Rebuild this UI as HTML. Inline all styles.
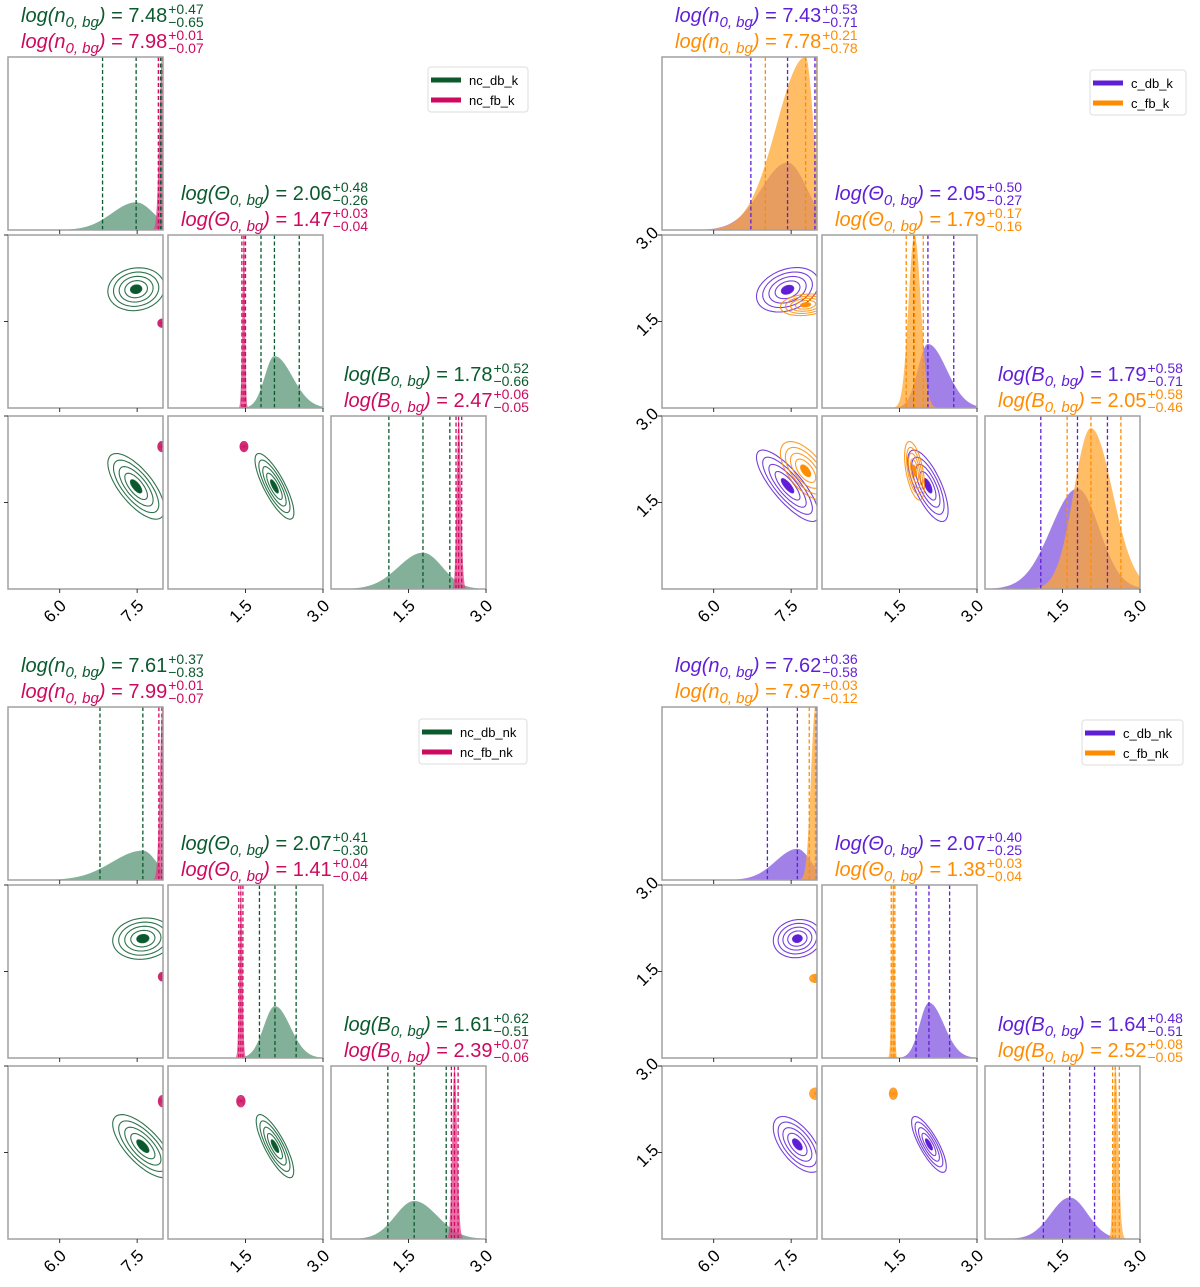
<!DOCTYPE html>
<html><head><meta charset="utf-8">
<style>
html,body{margin:0;padding:0;background:#fff;}
svg{display:block;font-family:"Liberation Sans","DejaVu Sans",sans-serif;}
</style></head>
<body>
<svg id="fig" width="1200" height="1287" viewBox="0 0 1200 1287" xmlns="http://www.w3.org/2000/svg"></svg>
<script>
// ---- data (median, +err, -err for n, Theta, B) ----
const tlNames = ['nc_db_k','nc_fb_k'];
const tlMed   = [[7.48,2.06,1.78],[7.98,1.47,2.47]];
const tlPlus  = [[0.47,0.48,0.52],[0.01,0.03,0.06]];
const tlMinus = [[0.65,0.26,0.66],[0.07,0.04,0.05]];
const tlPeak  = [[0.16,0.30,0.21],[1.0,1.0,1.0]];
const tlRho   = [[0.1,-0.7,-0.8],[0,0,0]];

const trNames = ['c_db_k','c_fb_k'];
const trMed   = [[7.43,2.05,1.79],[7.78,1.79,2.05]];
const trPlus  = [[0.53,0.50,0.58],[0.21,0.17,0.58]];
const trMinus = [[0.71,0.27,0.71],[0.78,0.16,0.46]];
const trPeak  = [[0.39,0.37,0.58],[1.0,1.0,0.93]];
const trRho   = [[0.3,-0.8,-0.7],[0.2,-0.6,-0.5]];

const blNames = ['nc_db_nk','nc_fb_nk'];
const blMed   = [[7.61,2.07,1.61],[7.99,1.41,2.39]];
const blPlus  = [[0.37,0.41,0.62],[0.01,0.04,0.07]];
const blMinus = [[0.83,0.30,0.51],[0.07,0.04,0.06]];
const blPeak  = [[0.17,0.30,0.22],[1.0,1.0,1.0]];
const blRho   = [[0.1,-0.7,-0.8],[0,0,0]];

const brNames = ['c_db_nk','c_fb_nk'];
const brMed   = [[7.62,2.07,1.64],[7.97,1.38,2.52]];
const brPlus  = [[0.36,0.40,0.48],[0.03,0.03,0.08]];
const brMinus = [[0.58,0.25,0.51],[0.12,0.04,0.05]];
const brPeak  = [[0.18,0.32,0.24],[1.0,1.0,1.0]];
const brRho   = [[0.1,-0.6,-0.8],[0,0,0]];

const paramSym = ['n','\u0398','B'];
const axisMin = [5,0,0];
const axisMax = [8,3,3];
const xTickVals = [[6.0,7.5],[1.5,3.0],[1.5,3.0]];
const yTickVals = [1.5,3.0];

const GREEN='#0b5a2e', PINK='#cc0a5f', PURPLE='#5f1fd6', ORANGE='#ff8c00';
const FILL = {[GREEN]:'#5a9675',[PINK]:'#e0408a',[PURPLE]:'#8257e0',[ORANGE]:'#ffa733'};

const corners = [
 {key:'top-left',ox:0,oy:0,names:tlNames,med:tlMed,plus:tlPlus,minus:tlMinus,peak:tlPeak,rho:tlRho,cols:[GREEN,PINK],ylab:false,leg:[428,67,100]},
 {key:'top-right',ox:654,oy:0,names:trNames,med:trMed,plus:trPlus,minus:trMinus,peak:trPeak,rho:trRho,cols:[PURPLE,ORANGE],ylab:true,leg:[436,70,96]},
 {key:'bottom-left',ox:0,oy:650,names:blNames,med:blMed,plus:blPlus,minus:blMinus,peak:blPeak,rho:blRho,cols:[GREEN,PINK],ylab:false,leg:[419,69,108]},
 {key:'bottom-right',ox:654,oy:650,names:brNames,med:brMed,plus:brPlus,minus:brMinus,peak:brPeak,rho:brRho,cols:[PURPLE,ORANGE],ylab:true,leg:[428,70,101]}
];

const colX=[8,168,331], colW=155, rowY=[57,235,416], rowH=173;
const NS='http://www.w3.org/2000/svg';
const svg=document.getElementById('fig');
function el(tag,attrs,parent){const e=document.createElementNS(NS,tag);for(const k in attrs)e.setAttribute(k,attrs[k]);(parent||svg).appendChild(e);return e;}
let clipId=0;

corners.forEach(c=>{
  const g=el('g',{transform:`translate(${c.ox},${c.oy})`});
  
  
  const xs=(p,v,col)=>colX[col]+(v-axisMin[p])/(axisMax[p]-axisMin[p])*colW;
  const ys=(p,v,row)=>rowY[row]+rowH-(v-axisMin[p])/(axisMax[p]-axisMin[p])*rowH;
  for(let r=0;r<3;r++)for(let col=0;col<=r;col++){
    const x0=colX[col],y0=rowY[r];
    const id='clip'+(clipId++);
    const cp=el('clipPath',{id:id},g);el('rect',{x:x0,y:y0,width:colW,height:rowH},cp);
    const pg=el('g',{'clip-path':`url(#${id})`},g);
    
    
    if(r===col){
      const p=r;
      [0,1].forEach(s=>{
        const m=c.med[s][p],pl=c.plus[s][p],mi=c.minus[s][p];
        const base=y0+rowH;
        let d=`M${x0},${base}`;
        for(let px=x0;px<=x0+colW;px+=0.5){
          const v=axisMin[p]+(px-x0)/colW*(axisMax[p]-axisMin[p]);
          const sg=(v<m?mi:pl)*0.72;
          const h=c.peak[s][p]*rowH*Math.exp(-0.5*Math.pow((v-m)/sg,2));
          d+=`L${px},${base-h}`;
        }
        d+=`L${x0+colW},${base}Z`;
        const path=el('path',{d:d,fill:FILL[c.cols[s]],'fill-opacity':0.75},pg);
        
        
      });
      [0,1].forEach(s=>{
        const m=c.med[s][p];
        [m-c.minus[s][p],m,m+c.plus[s][p]].forEach(v=>{
          const X=xs(p,v,col);
          const ln=el('line',{x1:X,x2:X,y1:y0,y2:y0+rowH,stroke:c.cols[s],'stroke-width':1.3,'stroke-dasharray':'4,2.5'},pg);
          
          
        });
      });
    } else {
      const px=col,py=r,ri=(col===0&&r===1)?0:(col===0?1:2);
      [0,1].forEach(s=>{
        const cx=xs(px,c.med[s][px],col),cy=ys(py,c.med[s][py],r);
        const sx=(c.plus[s][px]+c.minus[s][px])/2*colW/(axisMax[px]-axisMin[px])*0.6;
        const sy=(c.plus[s][py]+c.minus[s][py])/2*rowH/(axisMax[py]-axisMin[py])*0.6;
        const rho=c.rho[s][ri],q=Math.sqrt(1-rho*rho);
        [0.3,0.6,0.9,1.2,1.5].forEach((k,i)=>{
          let d='';
          for(let t=0;t<=64;t++){
            const a=t/64*2*Math.PI;
            const X=cx+(sx*k+1.5*k)*Math.cos(a);
            const Y=cy-(sy*k+1.5*k)*(rho*Math.cos(a)+q*Math.sin(a));
            d+=(t?'L':'M')+X.toFixed(1)+','+Y.toFixed(1);
          }
          const e=el('path',{d:d+'Z',fill:i===0?c.cols[s]:'none',stroke:c.cols[s],'stroke-width':1.1,'stroke-opacity':0.85},pg);
          
          
        });
      });
    }
    const fr=el('rect',{x:x0,y:y0,width:colW,height:rowH,fill:'none',stroke:'#a0a0a0','stroke-width':1.5},g);
    
    
    xTickVals[col].forEach(v=>{const X=xs(col,v,col);el('line',{x1:X,x2:X,y1:y0+rowH,y2:y0+rowH+4,stroke:'#333','stroke-width':1},g);});
    if(col===0&&r>0) yTickVals.forEach(v=>{const Y=ys(r,v,r);el('line',{x1:x0-4,x2:x0,y1:Y,y2:Y,stroke:'#333','stroke-width':1},g);
      if(c.ylab){const t=el('text',{x:x0-14,y:Y+4,'font-size':17,'text-anchor':'middle',transform:`rotate(-45 ${x0-14} ${Y+4})`,'dominant-baseline':'middle',fill:'#000'},g);t.textContent=v.toFixed(1);
        }});
    if(r===2) xTickVals[col].forEach(v=>{const X=xs(col,v,col);const Y=y0+rowH+23;
      const t=el('text',{x:X-4,y:Y,'font-size':17,'text-anchor':'middle','dominant-baseline':'middle',transform:`rotate(-45 ${X-4} ${Y})`,fill:'#000'},g);t.textContent=v.toFixed(1);
      });
  }
  // titles
  for(let p=0;p<3;p++){
    [0,1].forEach(s=>{
      const tx=colX[p]+13, ty=rowY[p]-35+s*26;
      const t=el('text',{x:tx,y:ty,'font-size':20,fill:c.cols[s]},g);
      
      
      const a=el('tspan',{'font-style':'italic'},t);a.textContent='log('+paramSym[p];
      const b=el('tspan',{'font-style':'italic','font-size':15,dy:5},t);b.textContent='0, bg';
      const d=el('tspan',{dy:-5,'font-style':'italic'},t);d.textContent=')';
      const e2=el('tspan',{},t);e2.textContent=' = '+c.med[s][p].toFixed(2);
      const w=t.getComputedTextLength();
      const sp=el('text',{x:tx+w+1,y:ty-8,'font-size':14,fill:c.cols[s]},g);sp.textContent='+'+c.plus[s][p].toFixed(2);
      const sb=el('text',{x:tx+w+1,y:ty+5,'font-size':14,fill:c.cols[s]},g);sb.textContent='\u2212'+c.minus[s][p].toFixed(2);
    });
  }
  // legend
  const [lx,ly,lw]=c.leg;
  const lg=el('g',{},g);
  
  
  el('rect',{x:lx,y:ly,width:lw,height:45,rx:3,fill:'#fff',stroke:'#ddd','stroke-width':1},lg);
  [0,1].forEach(s=>{
    const yy=ly+13+s*20;
    const ent=el('g',{},lg);
    
    
    el('line',{x1:lx+3,x2:lx+33,y1:yy,y2:yy,stroke:c.cols[s],'stroke-width':5},ent);
    const t=el('text',{x:lx+41,y:yy+5,'font-size':13,fill:'#000'},ent);t.textContent=c.names[s];
  });
});
</script>
</body></html>
